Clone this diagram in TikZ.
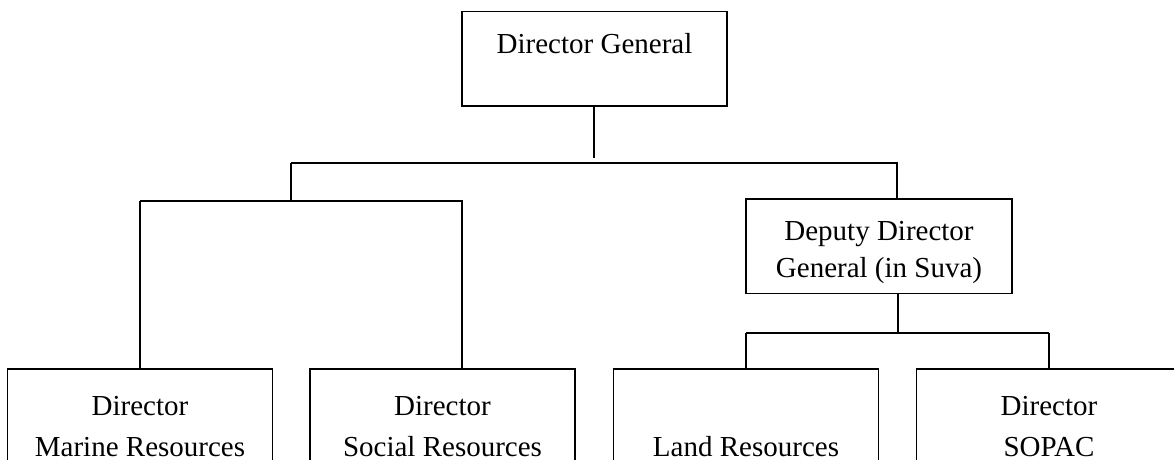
\documentclass[tikz,border=0pt]{standalone}
\usepackage{fontspec}
\setmainfont{Liberation Serif}
\begin{document}
\begin{tikzpicture}[x=1pt,y=-1pt,
  box/.style={draw, line width=1.7pt, rectangle, inner sep=0pt, anchor=north, align=center},
  topbox/.style={box, text height=42pt, text depth=52.5pt, font=\fontsize{29}{37}\selectfont},
  lowbox/.style={box, minimum width=265pt, text height=46.5pt, text depth=60pt, font=\fontsize{29}{41}\selectfont},
  conn/.style={line width=1.7pt}]
\useasboundingbox (0,0) rectangle (1174,459);
\clip (0,0) rectangle (1174,459);
% boxes
\node[topbox, minimum width=265pt] (dg) at (594.5,10.7) {Director General};
\node[topbox, minimum width=266pt] (ddg) at (879,198) {\begin{tabular}[t]{@{}c@{}}Deputy Director\\General (in Suva)\end{tabular}};
\node[lowbox] (b1) at (140,368) {\begin{tabular}[t]{@{}c@{}}Director\\Marine Resources\end{tabular}};
\node[lowbox] (b2) at (442.5,368) {\begin{tabular}[t]{@{}c@{}}Director\\Social Resources\end{tabular}};
\node[lowbox] (b3) at (746,368) {\begin{tabular}[t]{@{}c@{}}\vphantom{Director}\\Land Resources\end{tabular}};
\node[lowbox] (b4) at (1049,368) {\begin{tabular}[t]{@{}c@{}}Director\\SOPAC\end{tabular}};
% connector points
\coordinate (dgend) at (594,157.7);
\coordinate (busL) at (291,162.7);
\coordinate (busR) at (897,162.7);
\coordinate (lbusL) at (291,200.7);
\coordinate (lbusR) at (462.3,200.7);
\coordinate (rj) at (897.7,333);
% connectors
\draw[conn] (dg.south -| dgend) -- (dgend);
\draw[conn] (busL) -- (busR) -- (busR |- ddg.north);
\draw[conn] (busL) -- (lbusL);
\draw[conn] (b1.north |- lbusL) -- (lbusR) -- (lbusR |- b2.north);
\draw[conn] (b1.north |- lbusL) -- (b1.north);
\draw[conn] (rj |- ddg.south) -- (rj);
\draw[conn] (b3.north |- rj) -- (b4.north |- rj);
\draw[conn] (b3.north |- rj) -- (b3.north);
\draw[conn] (b4.north |- rj) -- (b4.north);
\end{tikzpicture}
\end{document}
